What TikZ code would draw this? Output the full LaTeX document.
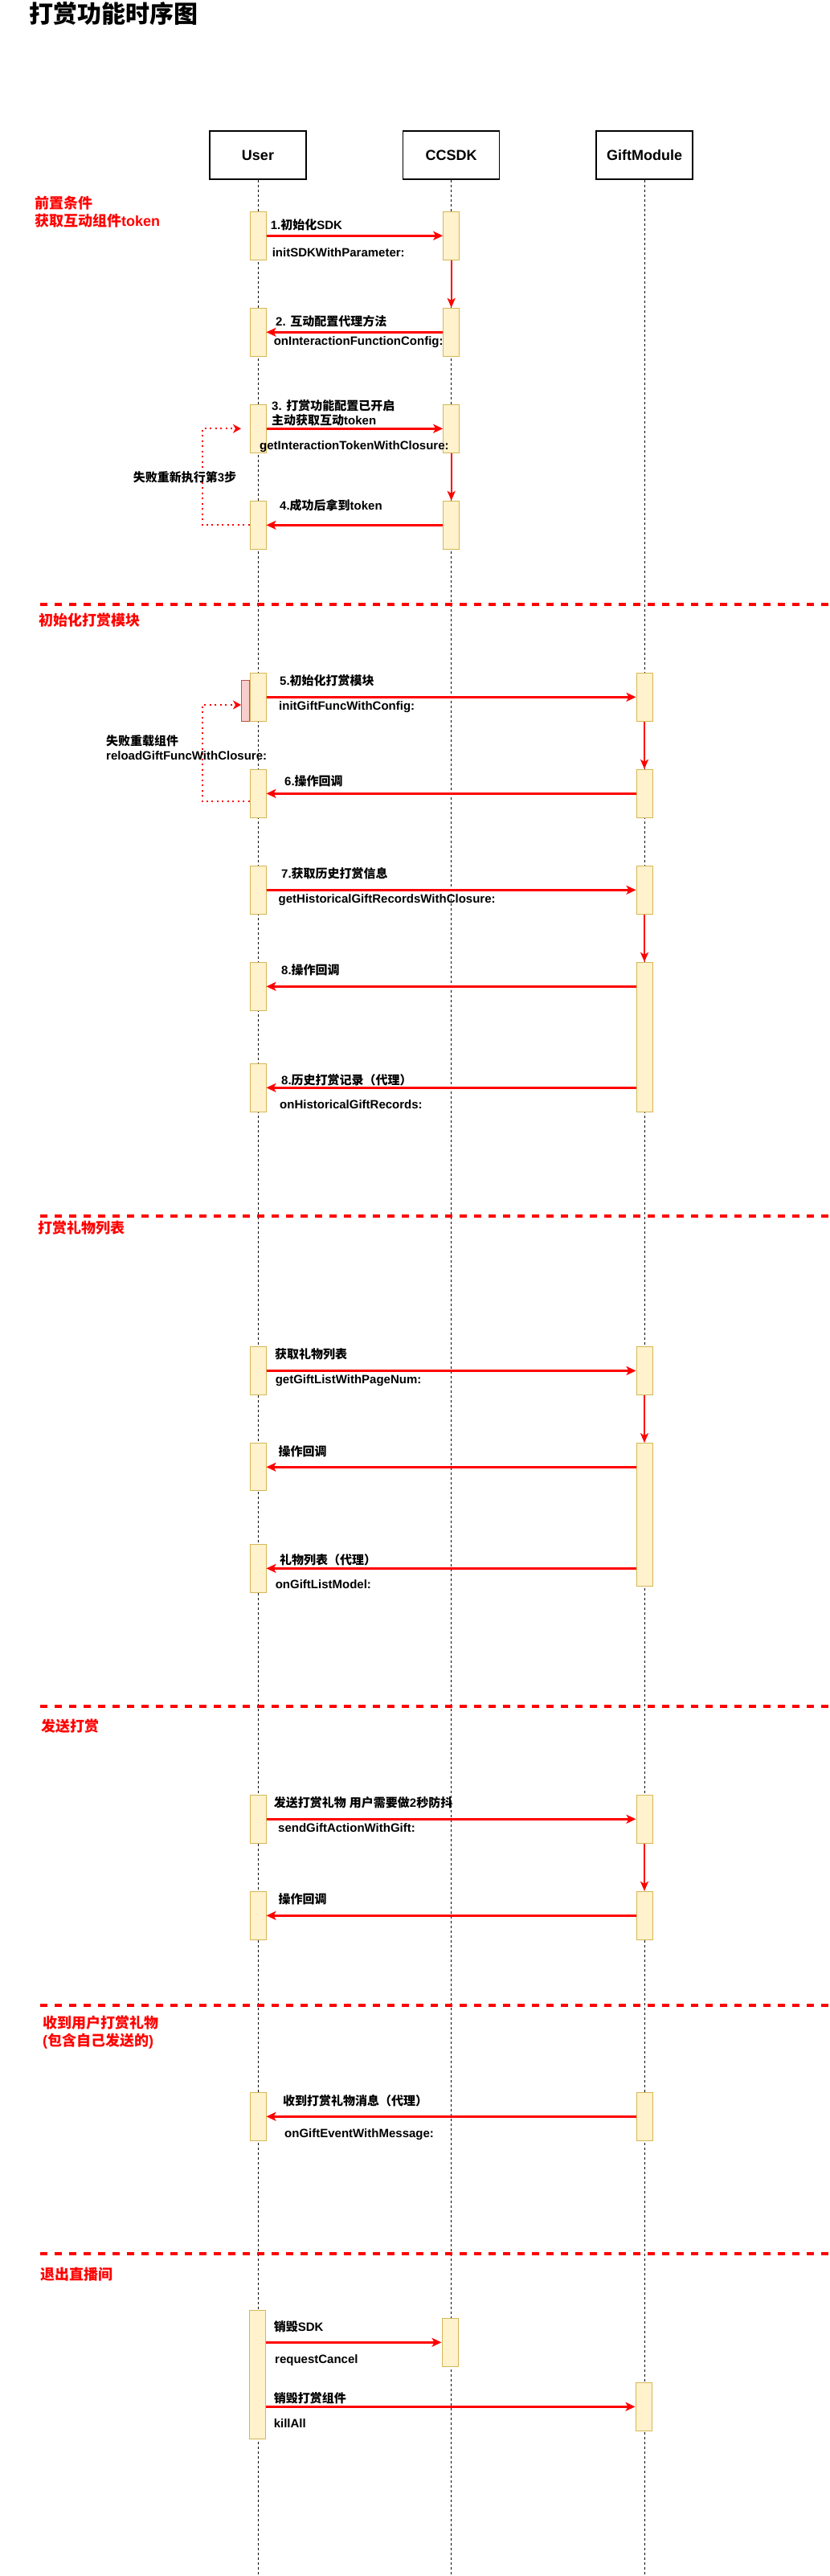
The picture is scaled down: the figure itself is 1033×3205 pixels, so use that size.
\documentclass[tikz,border=0pt]{standalone}
\usepackage{fontspec}
\setmainfont{Liberation Sans}
\newfontfamily\cjk{Noto Sans CJK SC}
\usetikzlibrary{arrows.meta}
\newcommand\zh[1]{{\cjk #1}}
\definecolor{actfill}{HTML}{FFF2CC}
\definecolor{actdraw}{HTML}{D6B656}
\definecolor{pinkfill}{HTML}{F8CECC}
\definecolor{pinkdraw}{HTML}{B85450}
\definecolor{msgred}{HTML}{FF0000}
\newcommand\actv[4]{\node[actbar, minimum height={#4pt-#3pt}] (#1) at (#2,{(#3+#4)/2}) {};}
\begin{document}
\begin{tikzpicture}[x=1pt,y=-1pt,
  actor/.style={draw=black, line width=1.5pt, fill=white, minimum width=120pt, minimum height=60pt, inner sep=0pt, font=\bfseries\fontsize{18}{22}\selectfont},
  life/.style={draw=black, line width=0.9pt, dash pattern=on 3pt off 3pt},
  actbar/.style={draw=actdraw, fill=actfill, line width=1pt, minimum width=20pt, inner sep=0pt},
  pinkbar/.style={draw=pinkdraw, fill=pinkfill, line width=1pt, minimum width=10.7pt, inner sep=0pt},
  msg/.style={draw=msgred, line width=2.5pt, -{Stealth[length=12pt,width=11pt,inset=3pt]}},
  selfdown/.style={draw=msgred, line width=2pt, -{Stealth[length=12pt,width=10pt,inset=3pt]}},
  retry/.style={draw=msgred, line width=2pt, dash pattern=on 2pt off 4.5pt, -{Stealth[length=10pt,width=11pt,inset=3pt]}},
  sep/.style={draw=msgred, line width=3.5pt, dash pattern=on 9pt off 9pt},
  lbl/.style={anchor=west, inner sep=0pt, text height=11pt, text depth=1pt, font=\bfseries\fontsize{15}{18}\selectfont},
  sect/.style={anchor=west, inner sep=0pt, text height=13.5pt, text depth=1.2pt, text=msgred, font=\bfseries\fontsize{18}{22}\selectfont},
  titlestyle/.style={anchor=west, inner sep=0pt, text height=22.5pt, text depth=2pt, font=\bfseries\fontsize{30}{36}\selectfont}
]
\useasboundingbox (0,0) rectangle (1033,3205);
\fill[white] (0,0) rectangle (1033,3205);

% title
\node[titlestyle] (title) at (36,18.5) {\zh{打赏功能时序图}};

% actors
\node[actor] (User) at (321,193) {User};
\node[actor] (CCSDK) at (561.7,193) {CCSDK};
\node[actor] (Gift) at (802,193) {GiftModule};
\coordinate (uend) at (321,3205);
\coordinate (cend) at (561.7,3205);
\coordinate (gend) at (802,3205);
\draw[life] (User.south) -- (uend);
\draw[life] (CCSDK.south) -- (cend);
\draw[life] (Gift.south) -- (gend);

% separators
\foreach \yy/\nm in {752/s2,1513/s3,2123/s4,2495/s5,2804/s6}{
  \coordinate (\nm a) at (50,\yy);
  \coordinate (\nm b) at (1033,\yy);
  \draw[sep] (\nm a) -- (\nm b);
}

% section labels
\node[sect] (t1a) at (43,253) {\zh{前置条件}};
\node[sect] (t1b) at (43,275) {\zh{获取互动组件}token};
\node[sect] (t2) at (48,772) {\zh{初始化打赏模块}};
\node[sect] (t3) at (47.5,1528) {\zh{打赏礼物列表}};
\node[sect] (t4) at (51,2148) {\zh{发送打赏}};
\node[sect] (t5a) at (53,2517) {\zh{收到用户打赏礼物}};
\node[sect] (t5b) at (53,2539) {(\zh{包含自己发送的})};
\node[sect] (t6) at (50,2830) {\zh{退出直播间}};

% activations
\actv{u1}{321}{263.3}{323.3}
\actv{c1}{561.7}{263.3}{323.3}
\actv{u2}{321}{383.3}{443.3}
\actv{c2}{561.7}{383.3}{443.3}
\actv{u3}{321}{503.3}{563.3}
\actv{c3}{561.7}{503.3}{563.3}
\actv{u4}{321}{623.3}{683.3}
\actv{c4}{561.7}{623.3}{683.3}
\node[pinkbar, minimum height=50.6pt] (p5) at (305.4,872) {};
\actv{u5}{321}{837.3}{897.3}
\actv{g5}{802}{837.3}{897.3}
\actv{u6}{321}{957.3}{1017.3}
\actv{g6}{802}{957.3}{1017.3}
\actv{u7}{321}{1077.3}{1137.3}
\actv{g7}{802}{1077.3}{1137.3}
\actv{u8}{321}{1197.3}{1257.3}
\actv{g8}{802}{1197.3}{1383.3}
\actv{u9}{321}{1323.3}{1383.3}
\actv{u10}{321}{1675.8}{1735.1}
\actv{g10}{802}{1675.8}{1735.1}
\actv{u11}{321}{1795.6}{1854.9}
\actv{g11}{802}{1795.6}{1973.1}
\actv{u12}{321}{1921.5}{1981.2}
\actv{u13}{321}{2233.3}{2293.3}
\actv{g13}{802}{2233.3}{2293.3}
\actv{u14}{321}{2353.3}{2413.3}
\actv{g14}{802}{2353.3}{2413.3}
\actv{u15}{321}{2603.3}{2663.3}
\actv{g15}{802}{2603.3}{2663.3}
\actv{u16}{320}{2874.3}{3034.3}
\actv{c16}{560}{2884.3}{2944.3}
\actv{g17}{801}{2964.3}{3024.3}

% messages
\draw[msg] (u1.east) -- (c1.west);
\draw[msg] (c2.west) -- (u2.east);
\draw[msg] (u3.east) -- (c3.west);
\draw[msg] (c4.west) -- (u4.east);
\draw[msg] (u5.east) -- (g5.west);
\draw[msg] (g6.west) -- (u6.east);
\draw[msg] (u7.east) -- (g7.west);
\draw[msg] (g8.west |- u8.east) -- (u8.east);
\draw[msg] (g8.west |- u9.east) -- (u9.east);
\draw[msg] (u10.east) -- (g10.west);
\draw[msg] (g11.west |- u11.east) -- (u11.east);
\draw[msg] (g11.west |- u12.east) -- (u12.east);
\draw[msg] (u13.east) -- (g13.west);
\draw[msg] (g14.west) -- (u14.east);
\draw[msg] (g15.west) -- (u15.east);
\draw[msg] (u16.east |- c16.west) -- (c16.west);
\draw[msg] (u16.east |- g17.west) -- (g17.west);

% self arrows
\draw[selfdown] (c1.south) -- (c2.north);
\draw[selfdown] (c3.south) -- (c4.north);
\draw[selfdown] (g5.south) -- (g6.north);
\draw[selfdown] (g7.south) -- (g8.north);
\draw[selfdown] (g10.south) -- (g11.north);
\draw[selfdown] (g13.south) -- (g14.north);

% retry loops
\coordinate (r3) at (300,533.3);
\draw[retry] (u4.west) -- ++(-59,0) |- (r3);
\coordinate (r5) at (300,877);
\draw[retry] ([yshift=-10pt]u6.west) -- ++(-59,0) |- (r5);

% message labels
\node[lbl] (m1a) at (336.6,280) {1.\zh{初始化}SDK};
\node[lbl] (m1b) at (338.6,314) {initSDKWithParameter:};
\node[lbl] (m2a) at (343,400) {2. \zh{互动配置代理方法}};
\node[lbl] (m2b) at (340.6,424) {onInteractionFunctionConfig:};
\node[lbl] (m3a) at (338,505) {3. \zh{打赏功能配置已开启}};
\node[lbl] (m3c) at (338,523) {\zh{主动获取互动}token};
\node[lbl] (m3b) at (323,554) {getInteractionTokenWithClosure:};
\node[lbl] (m4) at (348,629) {4.\zh{成功后拿到}token};
\node[lbl, anchor=center] (lp1) at (230,594) {\zh{失败重新执行第}3\zh{步}};
\node[lbl] (m5a) at (348,847.7) {5.\zh{初始化打赏模块}};
\node[lbl] (m5b) at (347,878) {initGiftFuncWithConfig:};
\node[lbl] (m6) at (354,972.7) {6.\zh{操作回调}};
\node[lbl] (lp2a) at (132,922.7) {\zh{失败重载组件}};
\node[lbl] (lp2b) at (132,940.7) {reloadGiftFuncWithClosure:};
\node[lbl] (m7a) at (350,1087.7) {7.\zh{获取历史打赏信息}};
\node[lbl] (m7b) at (346.5,1118.3) {getHistoricalGiftRecordsWithClosure:};
\node[lbl] (m8) at (350,1207.7) {8.\zh{操作回调}};
\node[lbl] (m9a) at (350,1344) {8.\zh{历史打赏记录（代理）}};
\node[lbl] (m9b) at (348,1374) {onHistoricalGiftRecords:};
\node[lbl] (m10a) at (342,1685.4) {\zh{获取礼物列表}};
\node[lbl] (m10b) at (342.6,1716) {getGiftListWithPageNum:};
\node[lbl] (m11) at (346.5,1806) {\zh{操作回调}};
\node[lbl] (m12a) at (348,1941) {\zh{礼物列表（代理）}};
\node[lbl] (m12b) at (342.6,1971) {onGiftListModel:};
\node[lbl] (m13a) at (340.6,2243.3) {\zh{发送打赏礼物} \zh{用户需要做}2\zh{秒防抖}};
\node[lbl] (m13b) at (346,2274) {sendGiftActionWithGift:};
\node[lbl] (m14) at (346.5,2363.3) {\zh{操作回调}};
\node[lbl] (m15a) at (352,2614) {\zh{收到打赏礼物消息（代理）}};
\node[lbl] (m15b) at (354,2654) {onGiftEventWithMessage:};
\node[lbl] (m16a) at (340.6,2895) {\zh{销毁}SDK};
\node[lbl] (m16b) at (342,2935) {requestCancel};
\node[lbl] (m17a) at (340.6,2984.3) {\zh{销毁打赏组件}};
\node[lbl] (m17b) at (340.6,3015) {killAll};
\end{tikzpicture}
\end{document}
